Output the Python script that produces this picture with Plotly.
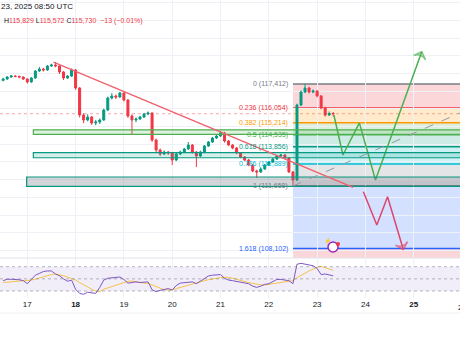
import pandas as pd
import plotly.graph_objects as go

# ---- BTCUSD 2h candles, 16 Aug 12:00 UTC .. 23 Aug 08:00 UTC ----
times = pd.date_range("2025-08-16 12:00", periods=83, freq="2h")

opens = [
    117620, 117695, 117808, 117865, 117840, 117808, 117695, 117525, 117751, 118148,
    118261, 118204, 118430, 118487, 118430, 118091, 117751, 117865, 118204, 117186,
    115658, 115375, 115545, 115206, 115262, 115375, 115941, 116620, 116733, 116676,
    116903, 116507, 115601, 115375, 115432, 115545, 115715, 115771, 114244, 113678,
    113452, 113565, 113508, 113112, 113452, 113565, 113734, 113961, 113565, 113338,
    113565, 113904, 114130, 114357, 114470, 114640, 114187, 113961, 113791, 113508,
    113282, 113112, 112829, 112489, 112433, 112603, 112829, 112999, 113169, 113338,
    113395, 113225, 112433, 111980, 116224, 116959, 117186, 116959, 117016, 116733,
    116054, 115658, 115743,
]
highs = [
    117760, 117860, 117920, 117910, 117880, 117840, 117730, 117800, 118200, 118380,
    118330, 118480, 118560, 118657, 118470, 118150, 117920, 118290, 118260, 117240,
    115760, 115700, 115600, 115380, 115460, 116020, 116700, 116900, 116820, 116959,
    116940, 116560, 115700, 115520, 115610, 115780, 115860, 115810, 114320, 113760,
    113650, 113620, 113560, 113520, 113640, 113800, 114130, 114010, 113610, 113640,
    113960, 114190, 114420, 114530, 114753, 114700, 114250, 114020, 113850, 113560,
    113330, 113170, 112880, 112560, 112680, 112890, 113060, 113230, 113400, 113460,
    113450, 113270, 112490, 116300, 117040, 117412, 117260, 117100, 117060, 116790,
    116120, 115860, 115829,
]
lows = [
    117560, 117650, 117760, 117790, 117740, 117640, 117440, 117480, 117700, 118090,
    118120, 118160, 118380, 118360, 117980, 117640, 117700, 117810, 117080, 115520,
    115200, 115300, 115100, 115080, 115150, 115330, 115880, 116540, 116560, 116620,
    116420, 115500, 114526, 115250, 115380, 115490, 115640, 114130, 113560, 113340,
    113390, 113400, 112829, 113050, 113390, 113500, 113680, 113480, 112716, 113280,
    113500, 113850, 114080, 114300, 114410, 114100, 113900, 113720, 113440, 113220,
    113050, 112760, 112420, 112094, 112380, 112550, 112770, 112940, 113110, 113280,
    113160, 112380, 111658, 111920, 116160, 116900, 116880, 116890, 116660, 115980,
    115560, 115600, 115572,
]
closes = [
    117695, 117808, 117865, 117840, 117808, 117695, 117525, 117751, 118148, 118261,
    118204, 118430, 118487, 118430, 118091, 117751, 117865, 118204, 117186, 115658,
    115375, 115545, 115206, 115262, 115375, 115941, 116620, 116733, 116676, 116903,
    116507, 115601, 115375, 115432, 115545, 115715, 115771, 114244, 113678, 113452,
    113565, 113508, 113112, 113452, 113565, 113734, 113961, 113565, 113338, 113565,
    113904, 114130, 114357, 114470, 114640, 114187, 113961, 113791, 113508, 113282,
    113112, 112829, 112489, 112433, 112603, 112829, 112999, 113169, 113338, 113395,
    113225, 112433, 111980, 116224, 116959, 117186, 116959, 117016, 116733, 116054,
    115658, 115743, 115730,
]

# RSI(14) and its moving average
rsi = [
    47, 49.3, 49.3, 49.3, 48.5, 47, 42, 49, 56, 59,
    62, 63, 63, 58, 55, 50, 46, 48, 33, 26,
    24.6, 28, 27, 26, 36, 48, 51, 52, 52.5, 53,
    49, 43, 44, 45, 44, 45, 45, 32, 29, 31,
    33, 34, 31.6, 39, 43, 44, 45, 45, 42, 46,
    51, 54.7, 56, 56.3, 57, 51, 48, 47, 46, 45,
    44, 42, 38, 36, 38, 41, 42, 45, 49, 49,
    48, 47, 42, 74, 75.5, 74, 73, 71.5, 67, 57,
    58, 56.5, 55,
]
rsi_ma = [
    44, 44.5, 45, 45, 45.5, 46, 47, 48, 49.5, 51.5,
    53.5, 55.5, 57, 58, 57, 55, 53, 51, 48, 44,
    40, 36, 33, 29.5, 29, 33, 35, 37, 40, 42,
    44, 46, 46.4, 45, 44, 43, 42.7, 40, 37, 34,
    32, 31.6, 32, 34, 36, 37, 39, 41, 43, 45,
    47, 48.5, 50, 51, 52, 52.5, 52.5, 51, 49, 47,
    45.3, 44, 42.5, 41, 40, 40, 41, 42, 42.7, 43.5,
    45, 46, 47, 52, 56, 60, 63, 66, 69, 70.6,
    68, 66, 64,
]

# Fibonacci retracement drawn from the 22 Aug swing
fib_high = 117412
fib_low = 111658
fib_ratios = [0, 0.236, 0.382, 0.5, 0.618, 0.786, 1, 1.618, 2.618]
fib_colors = ["#787B86", "#F23645", "#FF9800", "#4CAF50", "#089981",
              "#00BCD4", "#787B86", "#2962FF", "#F23645"]
fib_start = "2025-08-22 12:00"
fib_end = "2025-08-28 00:00"

# Horizontal support / resistance zones (price bottom, price top)
zones = [(114560, 114820), (113240, 113530), (111620, 112150)]

# Descending trendline and dashed support line (time, price)
trend_times = ["2025-08-17 13:00", "2025-08-23 17:50"]
trend_prices = [118650, 111564]
dash_times = ["2025-08-22 12:00", "2025-08-25 23:00"]
dash_prices = [111640, 115771]

# Projected scenarios
up_times = ["2025-08-23 08:20", "2025-08-23 12:50", "2025-08-23 21:00",
            "2025-08-24 05:00", "2025-08-25 04:00"]
up_prices = [115658, 113395, 115214, 111980, 119240]
down_times = ["2025-08-23 23:00", "2025-08-24 05:40", "2025-08-24 11:00",
              "2025-08-24 18:50"]
down_prices = [111318, 109434, 111036, 108050]

day_ticks = ["2025-08-%02d" % d for d in range(17, 26)]
day_labels = ["17", "<b>18</b>", "19", "20", "21", "22", "23", "24", "<b>25</b>"]

UP, DOWN = "#089981", "#F23645"
GRID = "#EEF1F6"
FONT = "Liberation Sans, Arial, sans-serif"
H = 345.0


def py(p):
    return 1 - p / H


def rgba(hex_color, a):
    h = hex_color.lstrip("#")
    return "rgba(%d,%d,%d,%.2f)" % (int(h[0:2], 16), int(h[2:4], 16), int(h[4:6], 16), a)


fig = go.Figure()

fig.add_trace(go.Candlestick(
    x=times, open=opens, high=highs, low=lows, close=closes,
    increasing=dict(line=dict(color=UP, width=1), fillcolor=UP),
    decreasing=dict(line=dict(color=DOWN, width=1), fillcolor=DOWN),
    whiskerwidth=0, xaxis="x", yaxis="y", showlegend=False, hoverinfo="skip",
))

arrow_sym_up = ["circle"] * (len(up_times) - 1) + ["arrow-wide-open"]
arrow_size_up = [0] * (len(up_times) - 1) + [9]
fig.add_trace(go.Scatter(
    x=up_times, y=up_prices, mode="lines+markers",
    line=dict(color="#4CAF50", width=1.5),
    marker=dict(symbol=arrow_sym_up, size=arrow_size_up, angleref="previous",
                color="#4CAF50", line=dict(color="#4CAF50", width=1.5)),
    xaxis="x", yaxis="y", showlegend=False, hoverinfo="skip",
))
arrow_sym_dn = ["circle"] * (len(down_times) - 1) + ["arrow-wide-open"]
arrow_size_dn = [0] * (len(down_times) - 1) + [9]
fig.add_trace(go.Scatter(
    x=down_times, y=down_prices, mode="lines+markers",
    line=dict(color="#E0456A", width=1.5),
    marker=dict(symbol=arrow_sym_dn, size=arrow_size_dn, angleref="previous",
                color="#E0456A", line=dict(color="#E0456A", width=1.5)),
    xaxis="x", yaxis="y", showlegend=False, hoverinfo="skip",
))

fig.add_trace(go.Scatter(
    x=times, y=rsi_ma, mode="lines", line=dict(color="#F5C34B", width=1),
    xaxis="x", yaxis="y2", showlegend=False, hoverinfo="skip",
))
fig.add_trace(go.Scatter(
    x=times, y=rsi, mode="lines", line=dict(color="#7E57C2", width=1),
    xaxis="x", yaxis="y2", showlegend=False, hoverinfo="skip",
))

shapes = []
annotations = []

# Fibonacci zones, level lines and labels
span = fib_high - fib_low
levels = [fib_high - r * span for r in fib_ratios]
for k in range(len(fib_ratios) - 1):
    shapes.append(dict(type="rect", xref="x", yref="y", x0=fib_start, x1=fib_end,
                       y0=levels[k], y1=levels[k + 1], line=dict(width=0),
                       fillcolor=rgba(fib_colors[k + 1], 0.2), layer="below"))
for k, (r, lv) in enumerate(zip(fib_ratios, levels)):
    if r > 2:
        continue
    shapes.append(dict(type="line", xref="x", yref="y", x0=fib_start, x1=fib_end,
                       y0=lv, y1=lv, line=dict(color=fib_colors[k], width=1.5),
                       layer="below"))
    annotations.append(dict(x=fib_start, y=lv, xref="x", yref="y",
                            text="%s (%s)" % (("%g" % r), format(round(lv), ",")),
                            showarrow=False, xanchor="right", yanchor="middle",
                            xshift=-3, font=dict(size=7, color=fib_colors[k], family=FONT)))

# Last price line
shapes.append(dict(type="line", xref="paper", yref="y", x0=0, x1=1,
                   y0=closes[-1], y1=closes[-1],
                   line=dict(color="rgba(242,54,69,0.45)", width=1, dash="dot"),
                   layer="below"))

# Support / resistance zones
zone_style = [
    ("2025-08-17 03:00", "#4CAF50", "rgba(76,175,80,0.18)"),
    ("2025-08-17 03:00", "#089981", "rgba(8,153,129,0.16)"),
    ("2025-08-16 23:40", "#089981", "rgba(120,123,134,0.32)"),
]
for (lo, hi), (x0, lc, fc) in zip(zones, zone_style):
    shapes.append(dict(type="rect", xref="x", yref="y", x0=x0, x1=fib_end,
                       y0=lo, y1=hi, line=dict(color=lc, width=1.2), fillcolor=fc))

shapes.append(dict(type="line", xref="x", yref="y",
                   x0=trend_times[0], x1=trend_times[1],
                   y0=trend_prices[0], y1=trend_prices[1],
                   line=dict(color="#F0606E", width=1.4)))
shapes.append(dict(type="line", xref="x", yref="y",
                   x0=dash_times[0], x1=dash_times[1],
                   y0=dash_prices[0], y1=dash_prices[1],
                   line=dict(color="#9598A1", width=1, dash="dash")))

# RSI band and reference levels
shapes.append(dict(type="rect", xref="paper", yref="y2", x0=0, x1=1, y0=30, y1=70,
                   fillcolor="rgba(126,87,194,0.10)", line=dict(width=0), layer="below"))
for lv in (70, 50, 30):
    shapes.append(dict(type="line", xref="paper", yref="y2", x0=0, x1=1, y0=lv, y1=lv,
                       line=dict(color="rgba(120,123,134,0.55)", width=1, dash="dot")))

# Pane separators
shapes.append(dict(type="line", xref="paper", yref="paper", x0=0, x1=1,
                   y0=py(258), y1=py(258), line=dict(color="#E0E3EB", width=1)))
shapes.append(dict(type="line", xref="paper", yref="paper", x0=0, x1=1,
                   y0=py(313), y1=py(313), line=dict(color="#EEF0F4", width=1)))

# Event badge
shapes.append(dict(type="circle", xref="paper", yref="paper",
                   x0=328 / 460, x1=338 / 460, y0=py(252), y1=py(242),
                   line=dict(color="#9C27B0", width=1.5), fillcolor="white"))
shapes.append(dict(type="circle", xref="paper", yref="paper",
                   x0=336 / 460, x1=340 / 460, y0=py(246), y1=py(242),
                   line=dict(width=0), fillcolor="#F23645"))
annotations.append(dict(x=333 / 460, y=py(247), xref="paper", yref="paper",
                        text="⚡", showarrow=False, font=dict(size=6, color="#9C27B0")))

# Header
annotations.append(dict(x=0, y=py(7), xref="paper", yref="paper", xanchor="left",
                        yanchor="middle", xshift=-1, showarrow=False,
                        text="23, 2025 08:50 UTC",
                        font=dict(size=8, color="#131722", family=FONT)))
chg = closes[-1] - closes[-2]
pct = chg / closes[-2] * 100
lbl = "<span style='color:#131722'>%s</span>"
hdr = (lbl % "H" + format(highs[-1], ",") + " " + lbl % "L" + format(lows[-1], ",") + " "
       + lbl % "C" + format(closes[-1], ",") + "  " + ("%d" % chg).replace("-", "−")
       + " (" + ("%.2f%%" % pct).replace("-", "−") + ")")
annotations.append(dict(x=0, y=py(21), xref="paper", yref="paper", xanchor="left",
                        yanchor="middle", xshift=2, showarrow=False, text=hdr,
                        font=dict(size=7, color="#F23645", family=FONT)))

# Partially visible next day label at the right edge
annotations.append(dict(x=462 / 460, y=py(307), xref="paper", yref="paper",
                        xanchor="center", yanchor="middle", showarrow=False,
                        text="26", font=dict(size=8, color="#131722", family=FONT)))

fig.update_layout(
    width=460, height=345,
    margin=dict(l=0, r=0, t=0, b=0),
    paper_bgcolor="white", plot_bgcolor="white",
    font=dict(family=FONT, color="#131722"),
    showlegend=False,
    xaxis=dict(type="date", anchor="y2", domain=[0, 1],
               range=["2025-08-16 10:26", "2025-08-25 23:00"],
               rangeslider=dict(visible=False),
               tickvals=day_ticks, ticktext=day_labels, ticks="",
               tickfont=dict(size=8, color="#131722"),
               showgrid=True, gridcolor=GRID, gridwidth=1,
               showline=False, zeroline=False, fixedrange=True),
    yaxis=dict(domain=[py(258), 1], range=[107567, 122165],
               tick0=0, dtick=1000, showticklabels=False, ticks="",
               showgrid=True, gridcolor=GRID, zeroline=False, anchor="x"),
    yaxis2=dict(domain=[py(298), py(258)], range=[18.5, 84.3],
                showticklabels=False, showgrid=False, zeroline=False, anchor="x"),
    shapes=shapes,
    annotations=annotations,
)

fig.write_html("out.html")
